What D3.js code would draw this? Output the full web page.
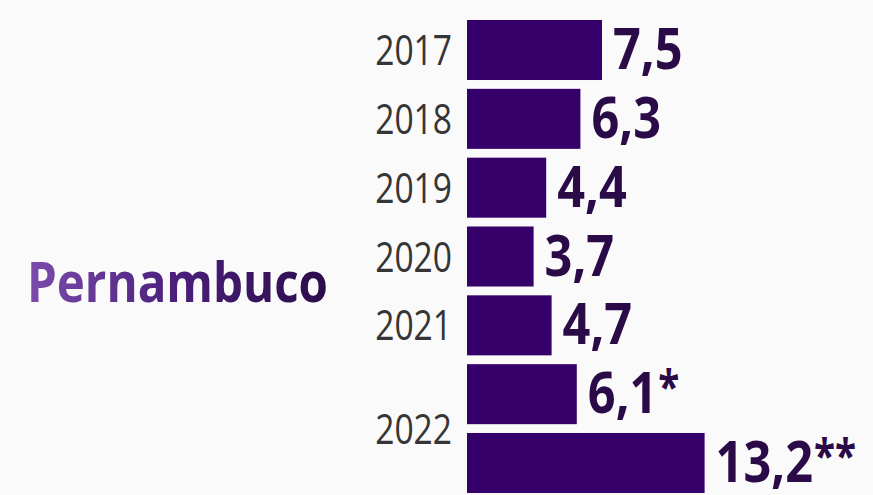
<!DOCTYPE html>
<html>
<head>
<meta charset="utf-8">
<script src="https://cdn.jsdelivr.net/npm/d3@7"></script>
<style>
  html, body { margin: 0; padding: 0; background: #fafafa; }
  svg { display: block; }
</style>
</head>
<body>
<svg id="chart" width="873" height="495"></svg>
<script>
// Rows of the chart: one bar per year, 2022 has two bars
const rowKeys = ["2017", "2018", "2019", "2020", "2021", "2022a", "2022b"];
const values = [7.5, 6.3, 4.4, 3.7, 4.7, 6.1, 13.2];
const valueLabels = ["7,5", "6,3", "4,4", "3,7", "4,7", "6,1*", "13,2**"];
// Year labels and the rows each one sits beside
const yearLabels = ["2017", "2018", "2019", "2020", "2021", "2022"];
const yearRows = [["2017"], ["2018"], ["2019"], ["2020"], ["2021"], ["2022a", "2022b"]];
const stateName = "Pernambuco";

const svg = d3.select("#chart");

const defs = svg.append("defs");
const grad = defs.append("linearGradient")
  .attr("id", "titleGrad")
  .attr("x1", "0%").attr("x2", "100%").attr("y1", "0%").attr("y2", "0%");
grad.append("stop").attr("offset", "0%").attr("stop-color", "#7b4cad");
grad.append("stop").attr("offset", "50%").attr("stop-color", "#4a1f7a");
grad.append("stop").attr("offset", "100%").attr("stop-color", "#2a0c4a");

const y = d3.scaleBand()
  .domain(rowKeys)
  .range([20, 493])
  .paddingInner(0.128)
  .paddingOuter(0);

const x = d3.scaleLinear()
  .domain([0, 13.2])
  .range([467, 704.6]);

const rows = rowKeys.map((k, i) => ({ key: k, value: values[i], label: valueLabels[i] }));

// Bars
svg.append("g")
  .selectAll("rect")
  .data(rows)
  .join("rect")
  .attr("x", x(0))
  .attr("y", d => y(d.key))
  .attr("width", d => x(d.value) - x(0))
  .attr("height", y.bandwidth())
  .attr("fill", "#36006b");

// Value labels to the right of each bar; footnote stars set smaller and raised
const sx = 0.84;
const valueText = svg.append("g")
  .selectAll("g")
  .data(rows)
  .join("g")
  .attr("transform", d => `translate(${x(d.value) + 11},${y(d.key) + y.bandwidth() / 2 + 19}) scale(${sx},1)`)
  .append("text")
  .attr("font-family", "'Open Sans', 'Liberation Sans', sans-serif")
  .attr("font-weight", 700)
  .attr("font-size", 58)
  .attr("fill", "#2a0b47");

valueText.append("tspan")
  .text(d => d.label.replace(/\*+$/, ""));
valueText.append("tspan")
  .attr("font-size", 46)
  .attr("dx", 1)
  .attr("dy", -9)
  .text(d => (d.label.match(/\*+$/) || [""])[0]);

// Year labels left of the bars
const years = yearLabels.map((t, i) => {
  const ks = yearRows[i];
  const c = (y(ks[0]) + y(ks[ks.length - 1]) + y.bandwidth()) / 2;
  return { text: t, center: c };
});
svg.append("g")
  .selectAll("g")
  .data(years)
  .join("g")
  .attr("transform", d => `translate(452,${d.center + 15}) scale(0.8,1)`)
  .append("text")
  .attr("text-anchor", "end")
  .attr("font-family", "'Open Sans', 'Liberation Sans', sans-serif")
  .attr("font-size", 42)
  .attr("fill", "#353535")
  .text(d => d.text);

// State name
svg.append("text")
  .attr("x", 27)
  .attr("y", 302)
  .attr("font-family", "'Open Sans', 'Liberation Sans', sans-serif")
  .attr("font-weight", 700)
  .attr("font-size", 56)
  .attr("textLength", 301)
  .attr("lengthAdjust", "spacingAndGlyphs")
  .attr("fill", "url(#titleGrad)")
  .text(stateName);
</script>
</body>
</html>
